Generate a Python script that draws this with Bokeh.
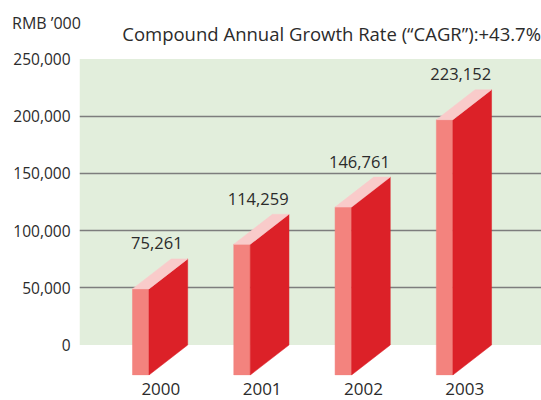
from bokeh.plotting import figure
from bokeh.layouts import column
from bokeh.models import Range1d, FixedTicker, NumeralTickFormatter, BoxAnnotation, ColumnDataSource, Div
from bokeh.core.properties import value
from bokeh.embed import file_html
from bokeh.resources import INLINE

# ---- data ----
years = ["2000", "2001", "2002", "2003"]
revenue = [75261, 114259, 146761, 223152]
value_labels = ["75,261", "114,259", "146,761", "223,152"]
y_ticks = [0, 50000, 100000, 150000, 200000, 250000]
grid_ticks = [50000, 100000, 150000, 200000]
unit_label = "RMB \u2019000"
cagr_label = "Compound Annual Growth Rate (\u201cCAGR\u201d):+43.7%"

# ---- style / geometry ----
FONT = "Open Sans"
TXT = "#2b2b2b"
GREEN = "#e2eedc"
FRONT = "#f3837e"
SIDE = "#dc2128"
TOP = "#f9cbca"
FRONT_W = 0.163
DEPTH_X = 0.382
DEPTH_Y = 26224
FL_OFF = -0.28
HEADER_H = 47

# ---- header with the two captions ----
header_html = (
    f'<div style="position:relative;width:541px;height:{HEADER_H}px;'
    f"font-family:'{FONT}';color:{TXT};white-space:nowrap;\">"
    f'<span style="position:absolute;left:12px;top:14.5px;font-size:16px;line-height:1;">{unit_label}</span>'
    f'<span style="position:absolute;right:0px;top:24.5px;font-size:18.5px;line-height:1;">{cagr_label}</span>'
    '</div>'
)
hdr = Div(text=header_html, width=541, height=HEADER_H, margin=0)

# ---- main chart ----
p = figure(frame_width=462, frame_height=328,
           min_border_left=79, min_border_right=0, min_border_top=0, min_border_bottom=25,
           x_range=Range1d(-0.803, 3.758), y_range=Range1d(-26660, 260050),
           output_backend="svg", toolbar_location=None)
p.outline_line_color = None
p.background_fill_color = "white"
p.border_fill_color = "white"

p.add_layout(BoxAnnotation(bottom=0, top=250000, fill_color=GREEN, fill_alpha=1,
                           line_color=None, level="image"))

p.xgrid.visible = False
p.ygrid.ticker = FixedTicker(ticks=grid_ticks)
p.ygrid.grid_line_color = "#7d7d7d"
p.ygrid.grid_line_width = 1.4

ya = p.yaxis[0]
ya.ticker = FixedTicker(ticks=y_ticks)
ya.formatter = NumeralTickFormatter(format="0,0")
ya.axis_line_color = None
ya.major_tick_line_color = None
ya.minor_tick_line_color = None
ya.major_tick_out = 0
ya.major_label_standoff = 9
ya.major_label_text_font = FONT
ya.major_label_text_font_size = "15.5px"
ya.major_label_text_color = TXT

xa = p.xaxis[0]
xa.ticker = FixedTicker(ticks=list(range(len(years))))
xa.major_label_overrides = {i: y for i, y in enumerate(years)}
xa.axis_line_color = None
xa.major_tick_line_color = None
xa.minor_tick_line_color = None
xa.major_tick_out = 0
xa.major_label_standoff = 7
xa.major_label_text_line_height = 0.75
xa.major_label_text_font = FONT
xa.major_label_text_font_size = "17px"
xa.major_label_text_color = TXT

front_xs, front_ys, side_xs, side_ys, top_xs, top_ys = [], [], [], [], [], []
for i, v in enumerate(revenue):
    fl = i + FL_OFF
    fr = fl + FRONT_W
    bl = fl + DEPTH_X
    br = fr + DEPTH_X
    front_xs.append([fl, fr, fr, fl])
    front_ys.append([-DEPTH_Y, -DEPTH_Y, v - DEPTH_Y, v - DEPTH_Y])
    side_xs.append([fr, br, br, fr])
    side_ys.append([-DEPTH_Y, 0, v, v - DEPTH_Y])
    top_xs.append([fl, fr, br, bl])
    top_ys.append([v - DEPTH_Y, v - DEPTH_Y, v, v])

p.patches(front_xs, front_ys, fill_color=FRONT, line_color=FRONT, line_width=0.5)
p.patches(side_xs, side_ys, fill_color=SIDE, line_color=SIDE, line_width=0.5)
p.patches(top_xs, top_ys, fill_color=TOP, line_color=TOP, line_width=0.5)

src = ColumnDataSource(dict(x=list(range(len(years))), y=revenue, t=value_labels))
p.text(x="x", y="y", text="t", source=src, x_offset=-4, y_offset=-15.5,
       text_align="center", text_baseline="middle",
       text_font=value(FONT), text_font_size="16.5px", text_color=TXT)

layout = column(hdr, p, spacing=0)
open("out.html", "w").write(file_html(layout, INLINE))
